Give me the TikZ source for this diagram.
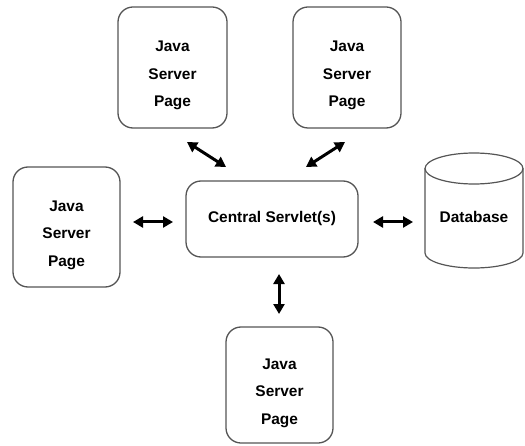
\documentclass[tikz,border=0pt]{standalone}
\usepackage{fontspec}
\setmainfont{Liberation Sans}
\usetikzlibrary{arrows.meta}
\definecolor{edge}{HTML}{555555}
\tikzset{
  pagebox/.style={draw=edge, line width=1.3bp, rounded corners=15bp, inner sep=0pt},
  lbl/.style={align=center, font=\fontsize{15.5}{27.5}\selectfont\bfseries, inner sep=0pt},
  link/.style={line width=3bp, {Triangle[length=10bp,width=11bp]}-{Triangle[length=10bp,width=11bp]}},
}
\begin{document}
\begin{tikzpicture}[x=1bp,y=-1bp]
  \useasboundingbox (0,0) rectangle (525,446);

  % Java Server Page boxes
  \node[pagebox, minimum width=109bp, minimum height=121bp] (jspTL) at (172.5,67.5) {};
  \node[pagebox, minimum width=108bp, minimum height=121bp] (jspTR) at (347,67.5) {};
  \node[pagebox, minimum width=107bp, minimum height=120bp] (jspL)  at (66.5,227) {};
  \node[pagebox, minimum width=107bp, minimum height=116bp] (jspB)  at (279.5,385) {};
  \foreach \n in {jspTL,jspTR,jspL,jspB}
    \node[lbl] (\n-t) at ([yshift=-8bp]\n.center) {Java\\Server\\Page};

  % Central servlet
  \node[pagebox, minimum width=172bp, minimum height=76bp] (servlet) at (272,219) {};
  \node[lbl] (servlet-t) at (servlet.center) {Central Servlet(s)};

  % Database cylinder: body with the lower rim, then the top ellipse
  \coordinate (dbc) at (474,168.5);
  \draw[draw=edge, line width=1.2bp, fill=white]
    (425,168.5) -- (425,253) arc[start angle=180, end angle=0, x radius=49, y radius=15]
    -- (523,168.5);
  \draw[draw=edge, line width=1.2bp] (dbc) ellipse[x radius=49, y radius=15.5];
  \node[lbl] (db-t) at (474,217) {Database};

  % Connector end points
  \coordinate (a1s) at (187,142);  \coordinate (a1e) at (226,167);
  \coordinate (a2s) at (345,142);  \coordinate (a2e) at (306,167);
  \coordinate (a3s) at (133,222);  \coordinate (a3e) at (173,222);
  \coordinate (a4s) at (373,222);  \coordinate (a4e) at (413,222);
  \coordinate (a5s) at (279,274);  \coordinate (a5e) at (279,314);

  \draw[link] (a1s) -- (a1e);
  \draw[link] (a2s) -- (a2e);
  \draw[link] (a3s) -- (a3e);
  \draw[link] (a4s) -- (a4e);
  \draw[link] (a5s) -- (a5e);
\end{tikzpicture}
\end{document}
